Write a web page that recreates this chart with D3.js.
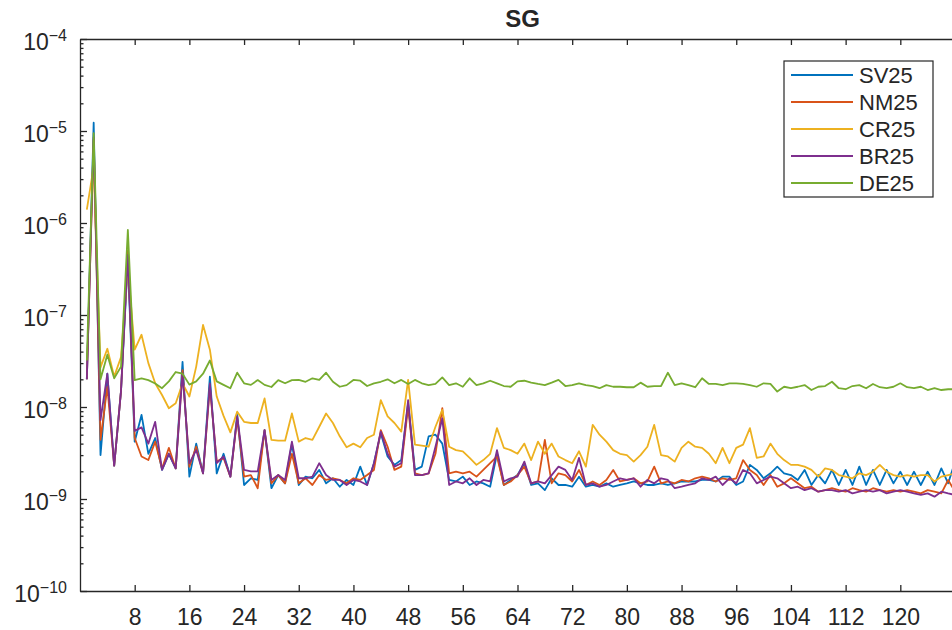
<!DOCTYPE html>
<html lang="en">
<head>
<meta charset="utf-8">
<title>SG</title>
<script src="https://cdn.jsdelivr.net/npm/d3@7"></script>
<style>
  body { margin: 0; background: #fff; }
  text { font-family: "Liberation Sans", Arial, Helvetica, sans-serif; fill: #262626; }
  .axis path, .axis line { stroke: #262626; stroke-width: 1.3; }
  .line { fill: none; stroke-width: 1.8; stroke-linejoin: round; }
</style>
</head>
<body>
<script>
// series names and colours (MATLAB default order)
var names = ["SV25", "NM25", "CR25", "BR25", "DE25"];
var colors = ["#0072BD", "#D95319", "#EDB120", "#7E2F8E", "#77AC30"];

// x index of each sample (1..128)
var xs = d3.range(1, 129);

// decade ticks / x tick values
var yDecades = [1e-10, 1e-9, 1e-8, 1e-7, 1e-6, 1e-5, 1e-4];
var yExps = ["-10", "-9", "-8", "-7", "-6", "-5", "-4"];
var xTicks = [8, 16, 24, 32, 40, 48, 56, 64, 72, 80, 88, 96, 104, 112, 120];

var SV25 = [2.0e-8, 1.23e-5, 3.0e-9, 2.3e-8, 2.3e-9, 1.5e-8, 4.0e-7, 4.2e-9, 8.2e-9, 3.1e-9,
  4.6e-9, 2.07e-9, 3.1e-9, 2.15e-9, 3.1e-8, 1.75e-9, 4.0e-9, 1.9e-9, 2.14e-8, 1.9e-9,
  3.1e-9, 1.75e-9, 8.2e-9, 1.42e-9, 1.68e-9, 1.61e-9, 5.6e-9, 1.31e-9, 1.82e-9, 1.48e-9,
  4.0e-9, 1.42e-9, 1.75e-9, 1.68e-9, 2.07e-9, 1.48e-9, 1.68e-9, 1.36e-9, 1.61e-9, 1.42e-9,
  2.25e-9, 1.42e-9, 2.45e-9, 5.2e-9, 2.9e-9, 2.35e-9, 2.65e-9, 1.1e-8, 2.07e-9, 2.25e-9,
  4.8e-9, 5.0e-9, 4.0e-9, 1.61e-9, 1.55e-9, 1.75e-9, 1.42e-9, 1.55e-9, 1.48e-9, 1.36e-9,
  3.1e-9, 1.42e-9, 1.61e-9, 1.82e-9, 2.45e-9, 1.42e-9, 1.48e-9, 1.25e-9, 1.68e-9, 1.42e-9,
  1.42e-9, 1.36e-9, 1.75e-9, 1.36e-9, 1.42e-9, 1.36e-9, 1.48e-9, 1.36e-9, 1.42e-9, 1.48e-9,
  1.55e-9, 1.48e-9, 1.42e-9, 1.42e-9, 1.48e-9, 1.42e-9, 1.48e-9, 1.55e-9, 1.55e-9, 1.55e-9,
  1.61e-9, 1.61e-9, 1.55e-9, 1.75e-9, 1.75e-9, 1.42e-9, 1.55e-9, 2.35e-9, 2.07e-9, 1.68e-9,
  1.9e-9, 2.25e-9, 1.9e-9, 1.82e-9, 1.61e-9, 2.07e-9, 1.42e-9, 1.82e-9, 1.48e-9, 2.07e-9,
  1.42e-9, 2.07e-9, 1.42e-9, 2.25e-9, 1.42e-9, 2.07e-9, 1.42e-9, 2.07e-9, 1.48e-9, 1.98e-9,
  1.42e-9, 1.98e-9, 1.42e-9, 1.98e-9, 1.42e-9, 2.15e-9, 1.48e-9, 2.55e-9];

var NM25 = [2.0e-8, 8.0e-6, 4.4e-9, 1.66e-8, 2.3e-9, 1.5e-8, 5.0e-7, 4.6e-9, 2.9e-9, 2.65e-9,
  4.2e-9, 2.15e-9, 3.6e-9, 2.15e-9, 2.52e-8, 2.25e-9, 3.7e-9, 1.9e-9, 1.66e-8, 2.55e-9,
  2.8e-9, 1.75e-9, 7.5e-9, 1.75e-9, 1.82e-9, 1.31e-9, 5.6e-9, 1.48e-9, 1.82e-9, 1.48e-9,
  3.1e-9, 1.48e-9, 1.68e-9, 1.42e-9, 1.82e-9, 1.61e-9, 1.68e-9, 1.61e-9, 1.48e-9, 1.68e-9,
  1.61e-9, 1.82e-9, 2.07e-9, 5.6e-9, 3.7e-9, 2.07e-9, 2.25e-9, 1.01e-8, 1.9e-9, 1.82e-9,
  1.9e-9, 3.1e-9, 9.7e-9, 1.9e-9, 1.98e-9, 1.9e-9, 1.98e-9, 1.75e-9, 2.07e-9, 2.45e-9,
  2.9e-9, 1.42e-9, 1.55e-9, 1.82e-9, 2.25e-9, 1.48e-9, 1.55e-9, 4.4e-9, 1.48e-9, 1.9e-9,
  1.82e-9, 1.55e-9, 2.07e-9, 1.42e-9, 1.55e-9, 1.42e-9, 1.61e-9, 2.07e-9, 1.55e-9, 1.61e-9,
  1.68e-9, 1.48e-9, 1.55e-9, 2.25e-9, 1.48e-9, 1.55e-9, 1.48e-9, 1.61e-9, 1.55e-9, 1.68e-9,
  1.75e-9, 1.68e-9, 1.55e-9, 1.68e-9, 1.61e-9, 1.68e-9, 2.65e-9, 2.07e-9, 1.82e-9, 1.42e-9,
  1.82e-9, 1.36e-9, 1.48e-9, 1.68e-9, 1.48e-9, 1.31e-9, 1.36e-9, 1.2e-9, 1.25e-9, 1.31e-9,
  1.25e-9, 1.2e-9, 1.31e-9, 1.25e-9, 1.2e-9, 1.31e-9, 1.25e-9, 1.2e-9, 1.25e-9, 1.2e-9,
  1.25e-9, 1.2e-9, 1.15e-9, 1.25e-9, 1.2e-9, 1.15e-9, 1.61e-9, 1.2e-9];

var CR25 = [1.4e-6, 4.1e-6, 2.7e-8, 4.3e-8, 2.14e-8, 3.5e-8, 3.3e-7, 4.2e-8, 6.1e-8, 3.0e-8,
  1.81e-8, 1.35e-8, 9.7e-9, 1.1e-8, 1.8e-8, 1.3e-8, 2.75e-8, 7.8e-8, 4.2e-8, 1.3e-8,
  8.0e-9, 5.3e-9, 8.9e-9, 6.9e-9, 6.7e-9, 6.7e-9, 1.24e-8, 4.4e-9, 4.3e-9, 4.3e-9,
  8.5e-9, 4.2e-9, 4.6e-9, 4.4e-9, 6.1e-9, 8.5e-9, 6.7e-9, 4.8e-9, 3.65e-9, 4.0e-9,
  3.65e-9, 4.6e-9, 5.0e-9, 1.19e-8, 7.9e-9, 6.7e-9, 5.4e-9, 1.97e-8, 3.9e-9, 3.8e-9,
  3.7e-9, 6.1e-9, 9.3e-9, 3.7e-9, 3.4e-9, 3.3e-9, 2.8e-9, 2.35e-9, 2.65e-9, 3.1e-9,
  5.9e-9, 3.6e-9, 3.4e-9, 3.1e-9, 4.0e-9, 2.65e-9, 4.2e-9, 3.1e-9, 4.0e-9, 2.9e-9,
  2.65e-9, 2.45e-9, 3.3e-9, 2.25e-9, 6.4e-9, 5.0e-9, 4.2e-9, 3.4e-9, 3.1e-9, 3.0e-9,
  2.55e-9, 3.0e-9, 3.7e-9, 6.4e-9, 3.0e-9, 2.9e-9, 2.55e-9, 3.6e-9, 4.2e-9, 3.7e-9,
  3.6e-9, 3.1e-9, 2.45e-9, 3.6e-9, 2.45e-9, 3.6e-9, 3.9e-9, 5.9e-9, 2.8e-9, 2.9e-9,
  4.0e-9, 3.1e-9, 2.65e-9, 2.35e-9, 2.35e-9, 2.25e-9, 2.07e-9, 1.75e-9, 2.15e-9, 2.07e-9,
  1.82e-9, 1.75e-9, 1.68e-9, 1.9e-9, 1.82e-9, 1.98e-9, 2.35e-9, 1.98e-9, 1.82e-9, 1.75e-9,
  1.82e-9, 1.75e-9, 1.82e-9, 1.82e-9, 1.55e-9, 1.75e-9, 1.82e-9, 1.9e-9];

var BR25 = [2.0e-8, 8.5e-6, 7.2e-9, 2.3e-8, 2.3e-9, 1.5e-8, 4.5e-7, 5.5e-9, 6.0e-9, 4.0e-9,
  6.9e-9, 2.07e-9, 3.1e-9, 2.15e-9, 2.32e-8, 2.45e-9, 3.4e-9, 1.9e-9, 1.8e-8, 2.45e-9,
  2.9e-9, 1.75e-9, 7.9e-9, 2.07e-9, 2.0e-9, 2.0e-9, 5.6e-9, 1.61e-9, 1.82e-9, 1.61e-9,
  4.2e-9, 1.68e-9, 1.68e-9, 1.75e-9, 2.45e-9, 1.82e-9, 1.61e-9, 1.61e-9, 1.42e-9, 1.61e-9,
  1.55e-9, 1.42e-9, 2.45e-9, 5.4e-9, 3.1e-9, 2.25e-9, 2.45e-9, 1.19e-8, 1.82e-9, 1.82e-9,
  1.9e-9, 3.7e-9, 7.5e-9, 1.42e-9, 1.55e-9, 1.48e-9, 1.68e-9, 1.42e-9, 1.61e-9, 1.55e-9,
  3.4e-9, 1.55e-9, 1.68e-9, 1.75e-9, 2.55e-9, 1.48e-9, 1.55e-9, 1.48e-9, 1.82e-9, 2.25e-9,
  2.07e-9, 1.61e-9, 2.8e-9, 1.42e-9, 1.48e-9, 1.36e-9, 1.42e-9, 1.55e-9, 1.68e-9, 1.61e-9,
  1.68e-9, 1.36e-9, 1.61e-9, 1.48e-9, 1.68e-9, 1.61e-9, 1.31e-9, 1.36e-9, 1.42e-9, 1.48e-9,
  1.68e-9, 1.61e-9, 1.75e-9, 1.42e-9, 1.68e-9, 1.48e-9, 2.07e-9, 1.9e-9, 1.48e-9, 1.61e-9,
  1.75e-9, 1.68e-9, 1.48e-9, 1.31e-9, 1.36e-9, 1.25e-9, 1.31e-9, 1.2e-9, 1.25e-9, 1.25e-9,
  1.2e-9, 1.25e-9, 1.15e-9, 1.2e-9, 1.25e-9, 1.2e-9, 1.25e-9, 1.15e-9, 1.2e-9, 1.25e-9,
  1.2e-9, 1.15e-9, 1.11e-9, 1.15e-9, 1.06e-9, 1.2e-9, 1.15e-9, 1.11e-9];

var DE25 = [3.2e-8, 9.5e-6, 2.0e-8, 3.7e-8, 2.05e-8, 2.75e-8, 8.4e-7, 1.96e-8, 2.05e-8, 1.96e-8,
  1.8e-8, 1.6e-8, 1.9e-8, 2.4e-8, 2.3e-8, 1.75e-8, 1.9e-8, 2.3e-8, 3.2e-8, 1.9e-8,
  1.74e-8, 1.6e-8, 2.36e-8, 1.81e-8, 1.74e-8, 1.96e-8, 1.74e-8, 1.65e-8, 1.96e-8, 1.81e-8,
  1.96e-8, 1.97e-8, 1.88e-8, 2.05e-8, 1.97e-8, 2.36e-8, 1.88e-8, 1.66e-8, 1.73e-8, 1.97e-8,
  1.93e-8, 1.69e-8, 1.81e-8, 1.88e-8, 2.0e-8, 1.81e-8, 1.97e-8, 1.78e-8, 1.97e-8, 1.81e-8,
  1.73e-8, 1.78e-8, 2.1e-8, 1.73e-8, 1.81e-8, 1.66e-8, 2.05e-8, 1.73e-8, 1.81e-8, 1.93e-8,
  1.81e-8, 1.69e-8, 1.66e-8, 1.9e-8, 1.93e-8, 1.84e-8, 1.78e-8, 1.73e-8, 1.84e-8, 1.97e-8,
  1.69e-8, 1.73e-8, 1.81e-8, 1.73e-8, 1.69e-8, 1.6e-8, 1.73e-8, 1.66e-8, 1.66e-8, 1.64e-8,
  1.64e-8, 1.84e-8, 1.66e-8, 1.69e-8, 1.69e-8, 2.36e-8, 1.73e-8, 1.81e-8, 1.73e-8, 1.64e-8,
  2.05e-8, 1.78e-8, 1.78e-8, 1.73e-8, 1.81e-8, 1.81e-8, 1.78e-8, 1.73e-8, 1.66e-8, 1.81e-8,
  1.78e-8, 1.47e-8, 1.66e-8, 1.6e-8, 1.66e-8, 1.73e-8, 1.53e-8, 1.66e-8, 1.69e-8, 1.88e-8,
  1.6e-8, 1.56e-8, 1.69e-8, 1.73e-8, 1.6e-8, 1.78e-8, 1.64e-8, 1.6e-8, 1.66e-8, 1.81e-8,
  1.64e-8, 1.6e-8, 1.66e-8, 1.53e-8, 1.6e-8, 1.53e-8, 1.56e-8, 1.56e-8];

var seriesData = [SV25, NM25, CR25, BR25, DE25];

// ---------------- layout ----------------
var W = 952, H = 630;
var margin = {top: 39, left: 80, bottom: 39, right: -3};
var w = W - margin.left - margin.right,
    h = H - margin.top - margin.bottom;

var svg = d3.select("body").append("svg")
    .attr("width", W)
    .attr("height", H);

var g = svg.append("g")
    .attr("transform", "translate(" + margin.left + "," + margin.top + ")");

var x = d3.scaleLinear().domain([0, 128]).range([0, w]);
var y = d3.scaleLog().domain([1e-10, 1e-4]).range([h, 0]);

// minor ticks on log axis (2..9 per decade)
var minors = [];
yDecades.slice(0, -1).forEach(function(d) {
  for (var k = 2; k <= 9; k++) minors.push(d * k);
});

// clip lines to plot box
g.append("clipPath").attr("id", "clip")
  .append("rect").attr("width", w).attr("height", h);

var line = d3.line()
    .x(function(d) { return x(d[0]); })
    .y(function(d) { return y(d[1]); });

g.append("g").attr("clip-path", "url(#clip)")
  .selectAll("path")
  .data(seriesData)
  .enter().append("path")
    .attr("class", "line")
    .attr("d", function(s) { return line(s.map(function(v, i) { return [xs[i], v]; })); })
    .style("stroke", function(d, i) { return colors[i]; });

// ---------------- axes ----------------
var xAxis = d3.axisBottom(x).tickValues(xTicks).tickSizeInner(-6).tickSizeOuter(0).tickPadding(18);
var xTop = d3.axisTop(x).tickValues(xTicks).tickSizeInner(-6).tickSizeOuter(0).tickFormat("");
var yAxis = d3.axisLeft(y).tickValues(yDecades).tickSizeInner(-7).tickSizeOuter(0).tickFormat("");
var yMinor = d3.axisLeft(y).tickValues(minors).tickSizeInner(-3.5).tickSizeOuter(0).tickFormat("");

g.append("g").attr("class", "axis x")
  .attr("transform", "translate(0," + h + ")")
  .call(xAxis)
  .selectAll("text")
    .style("font-size", "23px")
    .style("fill", "#262626");

g.append("g").attr("class", "axis").call(xTop);
g.append("g").attr("class", "axis").call(yMinor).select(".domain").remove();
g.append("g").attr("class", "axis y").call(yAxis);

// y labels as 10 with superscript exponent
var ylab = g.append("g").selectAll("text")
    .data(yDecades)
    .enter().append("text")
    .attr("x", -13)
    .attr("y", function(d) { return y(d) + 11; })
    .attr("text-anchor", "end");
ylab.append("tspan")
    .style("font-size", "23px")
    .text("10");
ylab.append("tspan")
    .attr("dy", -9)
    .style("font-size", "16px")
    .text(function(d, i) { return yExps[i].replace("-", "\u2212"); });

// title
g.append("text")
  .attr("x", x(64) + 5)
  .attr("y", -12)
  .attr("text-anchor", "middle")
  .style("font-size", "24px")
  .style("font-weight", "bold")
  .text("SG");

// ---------------- legend ----------------
var lg = svg.append("g").attr("transform", "translate(784,61)");
lg.append("rect")
  .attr("width", 149).attr("height", 136)
  .style("fill", "#fff").style("stroke", "#262626").style("stroke-width", 1.2);

var item = lg.selectAll(".item")
    .data(names)
    .enter().append("g")
    .attr("transform", function(d, i) { return "translate(0," + (14 + i * 27) + ")"; });
item.append("line")
  .attr("x1", 7).attr("x2", 69)
  .style("stroke-width", 1.8)
  .style("stroke", function(d, i) { return colors[i]; });
item.append("text")
  .attr("x", 75).attr("y", 8)
  .style("font-size", "22px")
  .text(function(d) { return d; });
</script>
</body>
</html>
